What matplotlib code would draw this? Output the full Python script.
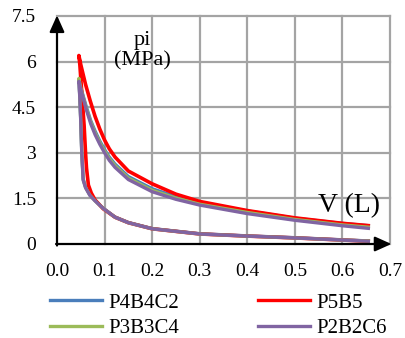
import numpy as np
import matplotlib
matplotlib.use('Agg')
import matplotlib.pyplot as plt
from matplotlib.lines import Line2D

plt.rcParams['font.family'] = ['Liberation Serif', 'DejaVu Serif']

# series names and colours (legend order)
names = ['P4B4C2', 'P5B5', 'P3B3C4', 'P2B2C6']
colors = ['#4a7ebb', '#ff0000', '#9bbb59', '#8064a2']

# compression branch (V from max down to peak)
v_low = [0.658, 0.6, 0.5, 0.4, 0.3, 0.2, 0.15, 0.122, 0.097, 0.08, 0.069, 0.06, 0.055, 0.052, 0.05, 0.048, 0.046]
p_low_blue   = [0.10, 0.14, 0.21, 0.27, 0.34, 0.51, 0.71, 0.89, 1.18, 1.43, 1.62, 1.88, 2.15, 3.0, 4.0, 4.8, 5.40]
p_low_green  = [0.10, 0.13, 0.20, 0.26, 0.33, 0.50, 0.70, 0.88, 1.17, 1.42, 1.61, 1.86, 2.12, 3.0, 4.0, 4.8, 5.45]
p_low_purple = [0.09, 0.13, 0.20, 0.26, 0.33, 0.50, 0.70, 0.88, 1.17, 1.42, 1.60, 1.85, 2.10, 3.0, 4.0, 4.8, 5.35]

v_low_red = [0.658, 0.6, 0.5, 0.4, 0.3, 0.2, 0.15, 0.122, 0.097, 0.08, 0.072, 0.066, 0.062, 0.06, 0.057, 0.052, 0.048, 0.046]
p_low_red = [0.09, 0.13, 0.20, 0.26, 0.33, 0.50, 0.70, 0.88, 1.16, 1.45, 1.68, 1.94, 2.5, 3.0, 3.9, 5.0, 5.9, 6.2]

# expansion branch (from peak to V max)
v_up = [0.046, 0.05, 0.055, 0.062, 0.071, 0.08, 0.09, 0.1, 0.11, 0.122, 0.15, 0.2, 0.25, 0.3, 0.4, 0.5, 0.6, 0.658]
p_up_blue   = [5.40, 5.16, 4.88, 4.50, 4.06, 3.72, 3.39, 3.11, 2.86, 2.63, 2.22, 1.82, 1.56, 1.36, 1.09, 0.85, 0.68, 0.60]
p_up_green  = [5.45, 5.14, 4.84, 4.45, 4.01, 3.66, 3.34, 3.06, 2.81, 2.58, 2.17, 1.77, 1.51, 1.31, 1.04, 0.81, 0.63, 0.55]
p_up_purple = [5.35, 5.10, 4.80, 4.40, 3.95, 3.60, 3.28, 3.00, 2.75, 2.52, 2.12, 1.72, 1.47, 1.28, 1.00, 0.78, 0.60, 0.51]

v_up_red = [0.046, 0.05, 0.06, 0.07, 0.08, 0.09, 0.1, 0.11, 0.122, 0.15, 0.2, 0.25, 0.3, 0.4, 0.5, 0.6, 0.658]
p_up_red = [6.2, 5.9, 5.25, 4.7, 4.2, 3.78, 3.42, 3.13, 2.86, 2.4, 1.98, 1.64, 1.4, 1.1, 0.86, 0.68, 0.6]

loops = [
    (v_low + v_up, p_low_blue + p_up_blue),
    (v_low_red + v_up_red, p_low_red + p_up_red),
    (v_low + v_up, p_low_green + p_up_green),
    (v_low + v_up, p_low_purple + p_up_purple),
]
widths = [2.3, 2.6, 2.3, 2.4]

xticks = [0.0, 0.1, 0.2, 0.3, 0.4, 0.5, 0.6, 0.7]
yticks = [0, 1.5, 3, 4.5, 6, 7.5]
ytick_labels = ['0', '1.5', '3', '4.5', '6', '7.5']

fig = plt.figure(figsize=(4.06, 3.38), dpi=100)
ax = fig.add_axes([57/406, 1 - 244/338, 333/406, 228/338])

ax.set_xlim(0, 0.7)
ax.set_ylim(0, 7.5)
ax.set_xticks(xticks)
ax.set_xticklabels(['%.1f' % t for t in xticks])
ax.set_yticks(yticks)
ax.set_yticklabels(ytick_labels)
ax.tick_params(length=0, labelsize=14)
ax.tick_params(axis='y', pad=15)
ax.tick_params(axis='x', pad=14)
for s in ax.spines.values():
    s.set_visible(False)

# grid lines, one by one in data coords
for t in xticks[1:]:
    ax.plot([t, t], [0, 7.5], color='#a4a4a4', lw=1.6, zorder=1, clip_on=False)
for t in yticks[1:]:
    ax.plot([0, 0.7], [t, t], color='#a4a4a4', lw=1.6, zorder=1, clip_on=False)

for (v, p), c, w in zip(loops, colors, widths):
    ax.plot(v, p, color=c, lw=w, solid_capstyle='butt', solid_joinstyle='round', zorder=3)

# black arrow axes
ax.annotate('', xy=(0, 7.52), xytext=(0, -0.05), xycoords='data',
            arrowprops=dict(arrowstyle='-|>,head_length=1.0,head_width=0.45', color='black', lw=1.6,
                            shrinkA=0, shrinkB=0), annotation_clip=False, zorder=4)
ax.annotate('', xy=(0.703, 0), xytext=(-0.002, 0), xycoords='data',
            arrowprops=dict(arrowstyle='-|>,head_length=1.0,head_width=0.45', color='black', lw=1.6,
                            shrinkA=0, shrinkB=0), annotation_clip=False, zorder=4)

ax.text(0.18, 6.35, 'pi\n(MPa)', ha='center', va='center', fontsize=16, linespacing=1.05)
ax.text(0.613, 1.25, 'V (L)', ha='center', va='center', fontsize=20)

handles = [Line2D([], [], color=c, lw=2.4) for c in colors]
order = [0, 2, 1, 3]
fig.legend([handles[i] for i in order], [names[i] for i in order], ncol=2,
           loc='upper left', bbox_to_anchor=(50/406, 1 - 293/338), frameon=False,
           fontsize=15, handlelength=2.5, handletextpad=0.3, columnspacing=3.8,
           labelspacing=0.3, borderaxespad=0, borderpad=0)

fig.savefig('out.png', dpi=100)
